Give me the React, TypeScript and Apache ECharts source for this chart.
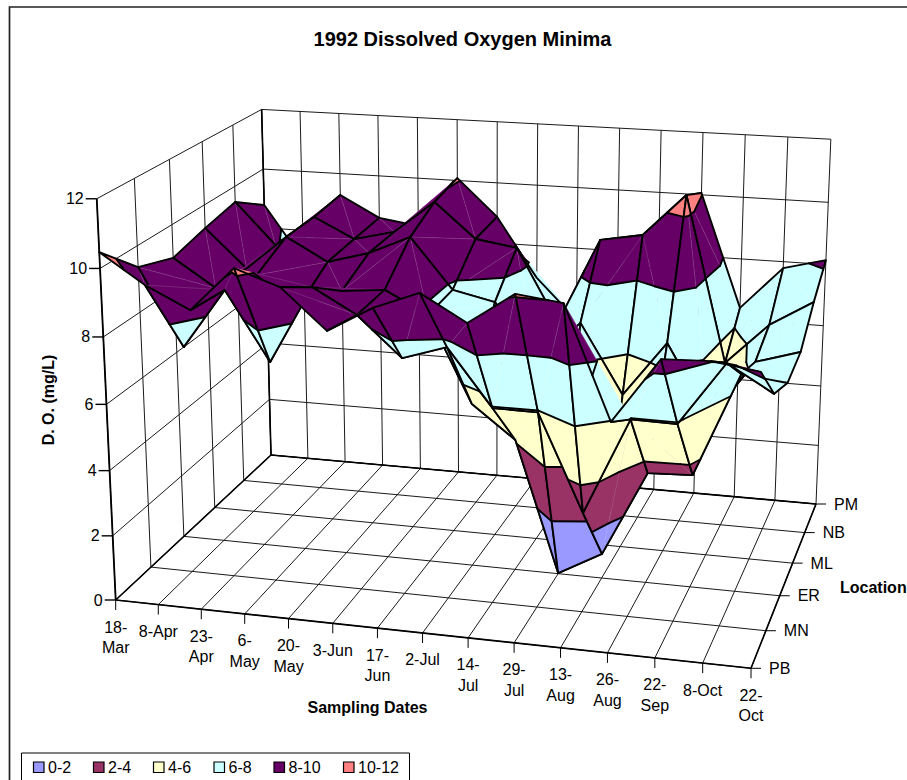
import React, { useEffect, useRef } from "react";
import * as echarts from "echarts";

const title = "1992 Dissolved Oxygen Minima";
const dates = ["18-\nMar", "8-Apr", "23-\nApr", "6-\nMay", "20-\nMay", "3-Jun", "17-\nJun", "2-Jul", "14-\nJul", "29-\nJul", "13-\nAug", "26-\nAug", "22-\nSep", "8-Oct", "22-\nOct"];
const locations = ["PB", "MN", "ER", "ML", "NB", "PM"];
const zTicks = [0, 2, 4, 6, 8, 10, 12];
const PB = [10.47, 9.61, 8.98, 10.28, 9.83, 8.68, 9.43, 9.95, 9.2, 10.11, 9.95, 6.73, 8.6, 8.65, 8.46];
const MN = [9.36, 7.04, 8.86, 6.79, 9.13, 8.4, 7.22, 7.65, 5.95, 5.93, 3.03, 5.95, 5.93, 7.81, 7.03];
const ER = [8.97, 8.12, 8.62, 7.78, 8.31, 8.44, 7.77, 5.12, 4.11, 0.02, 0.77, 3.44, 3.5, 6.69, 6.53];
const ML = [9.26, 8.05, 9.15, 8.44, 8.81, 9.4, 7.83, 7.54, 5.68, 7.08, 4.91, 6.65, 4.4, 6.27, 6.68];
const NB = [9.49, 8.15, 9.16, 8.52, 8.84, 9.89, 8.78, 8.58, 6.24, 9.01, 9.25, 10.59, 5.34, 6.67, 7.49];
const PM = [8.78, 6.98, 9.28, 8.59, 8.4, 10.08, 8.87, 6.92, 5.6, 7.1, 7.59, 10.06, 6.39, 7.79, 8.14];
const grid = [PB, MN, ER, ML, NB, PM];
const bandNames = ["0-2", "2-4", "4-6", "6-8", "8-10", "10-12"];
const bandColors = ["#9999FF", "#993366", "#FFFFCC", "#CCFFFF", "#660066", "#FF8080"];

const FONT = "'Liberation Sans', Arial, sans-serif";
const nx = dates.length - 1;
const ny = locations.length - 1;
const zMax = 12;

// Axis box calibration: the projected corners of the 3D box.
const floor = [[115.7, 600], [751, 668.3], [816, 504], [271, 455]];
const topFL = [97.3, 198.7];
const topBL = [261, 109.7];
const topBR = [831, 139];

function solve3(A: number[][], b: number[]) {
  const m = A.map((r, i) => [...r, b[i]]);
  for (let i = 0; i < 3; i++) {
    let p = i;
    for (let k = i + 1; k < 3; k++) if (Math.abs(m[k][i]) > Math.abs(m[p][i])) p = k;
    [m[i], m[p]] = [m[p], m[i]];
    for (let k = 0; k < 3; k++) {
      if (k === i) continue;
      const f = m[k][i] / m[i][i];
      for (let j = i; j < 4; j++) m[k][j] -= f * m[i][j];
    }
  }
  return [m[0][3] / m[0][0], m[1][3] / m[1][1], m[2][3] / m[2][2]];
}

const [[x0, y0], [x1, y1], [x2, y2], [x3, y3]] = floor;
const dx1 = x1 - x2, dx2 = x3 - x2, sx = x0 - x1 + x2 - x3;
const dy1 = y1 - y2, dy2 = y3 - y2, sy = y0 - y1 + y2 - y3;
const den = dx1 * dy2 - dx2 * dy1;
const g = (sx * dy2 - dx2 * sy) / den;
const h = (dx1 * sy - sx * dy1) / den;
const a = x1 - x0 + g * x1, b = x3 - x0 + h * x3, c = x0;
const d = y1 - y0 + g * y1, e = y3 - y0 + h * y3, f = y0;
const base = (X: number, Y: number) => [a * X + b * Y + c, d * X + e * Y + f, g * X + h * Y + 1];
const tops: [number, number, number[]][] = [[0, 0, topFL], [0, 1, topBL], [1, 1, topBR]];
const rows: number[][] = [];
const rhs: number[] = [];
tops.forEach(([X, Y, t]) => {
  const [bx, by, bw] = base(X, Y);
  rows.push([1, 0, -t[0]]); rhs.push(t[0] * bw - bx);
  rows.push([0, 1, -t[1]]); rhs.push(t[1] * bw - by);
});
const ATA = [0, 1, 2].map((i) => [0, 1, 2].map((j) => rows.reduce((s, r) => s + r[i] * r[j], 0)));
const ATb = [0, 1, 2].map((i) => rows.reduce((s, r, k) => s + r[i] * rhs[k], 0));
const [p1, p2, p3] = solve3(ATA, ATb);

function project(ix: number, iy: number, z: number): number[] {
  const X = echarts.number.linearMap(ix, [0, nx], [0, 1]);
  const Y = echarts.number.linearMap(iy, [0, ny], [0, 1]);
  const Z = echarts.number.linearMap(z, [0, zMax], [0, 1]);
  const [bx, by, bw] = base(X, Y);
  const w = bw + p3 * Z;
  return [(bx + p1 * Z) / w, (by + p2 * Z) / w];
}

type P3 = number[];
function clipAbove(poly: P3[], level: number, keepAbove: boolean): P3[] {
  const out: P3[] = [];
  for (let i = 0; i < poly.length; i++) {
    const p = poly[i], q = poly[(i + 1) % poly.length];
    const pin = keepAbove ? p[2] >= level : p[2] <= level;
    const qin = keepAbove ? q[2] >= level : q[2] <= level;
    if (pin) out.push(p);
    if (pin !== qin) {
      const t = (level - p[2]) / (q[2] - p[2]);
      out.push([p[0] + t * (q[0] - p[0]), p[1] + t * (q[1] - p[1]), level]);
    }
  }
  return out;
}

function contourSegment(tri: P3[], level: number): P3[] | null {
  const pts: P3[] = [];
  for (let i = 0; i < 3; i++) {
    const p = tri[i], q = tri[(i + 1) % 3];
    if ((p[2] < level && q[2] >= level) || (q[2] < level && p[2] >= level)) {
      const t = (level - p[2]) / (q[2] - p[2]);
      pts.push([p[0] + t * (q[0] - p[0]), p[1] + t * (q[1] - p[1]), level]);
    }
  }
  return pts.length === 2 ? pts : null;
}

const toScreen = (p: P3) => project(p[0], p[1], p[2]);
const MESH = { stroke: "#000", lineWidth: 1.9, lineJoin: "round", lineCap: "round", fill: "none" };

function renderCell(params: any, api: any) {
  const ix = api.value(0), iy = api.value(1);
  const A: P3 = [ix, iy, grid[iy][ix]];
  const B: P3 = [ix + 1, iy, grid[iy][ix + 1]];
  const C: P3 = [ix + 1, iy + 1, grid[iy + 1][ix + 1]];
  const D: P3 = [ix, iy + 1, grid[iy + 1][ix]];
  const acHigher = A[2] + C[2] >= B[2] + D[2];
  const tris = acHigher ? [[A, B, C], [A, C, D]] : [[A, B, D], [B, C, D]];
  const diag = acHigher ? [A, C] : [B, D];
  const children: any[] = [];
  tris.forEach((tri) => {
    bandColors.forEach((color, k) => {
      const lo = k * 2, hi = lo + 2;
      let poly = clipAbove(tri, lo, true);
      if (poly.length) poly = clipAbove(poly, hi, false);
      if (poly.length >= 3) {
        children.push({
          type: "polygon",
          shape: { points: poly.map(toScreen) },
          style: { fill: color, stroke: color, lineWidth: 0.4 },
        });
      }
    });
  });
  children.push({
    type: "polyline",
    shape: { points: diag.map(toScreen) },
    style: { stroke: "rgba(255,255,255,0.2)", lineWidth: 0.7, fill: "none" },
  });
  tris.forEach((tri) => {
    zTicks.forEach((lv) => {
      const seg = contourSegment(tri, lv);
      if (seg) children.push({ type: "polyline", shape: { points: seg.map(toScreen) }, style: MESH });
    });
  });
  children.push({ type: "polygon", shape: { points: [A, B, C, D].map(toScreen) }, style: MESH });
  return { type: "group", children };
}

const cells: number[][] = [];
for (let iy = ny - 1; iy >= 0; iy--) for (let ix = 0; ix < nx; ix++) cells.push([ix, iy]);

function line(p: number[], q: number[], lineWidth = 1, stroke = "#1a1a1a") {
  return { type: "line", silent: true, shape: { x1: p[0], y1: p[1], x2: q[0], y2: q[1] }, style: { stroke, lineWidth } };
}
function label(text: string, x: number, y: number, align = "center", extra: any = {}) {
  return {
    type: "text", silent: true, x, y,
    style: { text, x: 0, y: 0, align, verticalAlign: "middle", font: `16px ${FONT}`, lineHeight: 20.5, fill: "#000", ...extra },
  };
}
const BOLD = `bold 16px ${FONT}`;

function buildGraphics() {
  const els: any[] = [];
  els.push({ type: "rect", silent: true, shape: { x: 9.5, y: 7, width: 906, height: 790 }, style: { fill: "#fff", stroke: "#222", lineWidth: 1.7 } });
  zTicks.forEach((z) => {
    els.push(line(project(0, ny, z), project(nx, ny, z)));
    els.push(line(project(0, 0, z), project(0, ny, z)));
  });
  dates.forEach((_, i) => {
    els.push(line(project(i, ny, 0), project(i, ny, zMax)));
    els.push(line(project(i, 0, 0), project(i, ny, 0)));
  });
  locations.forEach((_, j) => {
    els.push(line(project(0, j, 0), project(0, j, zMax)));
    els.push(line(project(0, j, 0), project(nx, j, 0)));
  });
  els.push(line(project(0, 0, 0), project(0, 0, zMax), 1.8, "#000"));
  els.push(line(project(0, 0, 0), project(nx, 0, 0), 1.6, "#000"));
  els.push(line(project(nx, 0, 0), project(nx, ny, 0), 1.6, "#000"));
  els.push(line(project(0, 0, 0), project(0, ny, 0), 1.6, "#000"));
  els.push(line(project(0, ny, 0), project(nx, ny, 0), 1.6, "#000"));
  els.push(line(project(0, ny, 0), project(0, ny, zMax), 1.6, "#000"));
  zTicks.forEach((z) => {
    const p = project(0, 0, z);
    els.push(line([p[0] - 11, p[1]], p, 1.4, "#000"));
    els.push(label(String(z), p[0] - 13, p[1], "right"));
  });
  dates.forEach((name, i) => {
    const p = project(i, 0, 0);
    els.push(line(p, [p[0], p[1] + 10], 1, "#000"));
    const lines = name.split("\n").length;
    els.push(label(name, p[0], p[1] + 27 + (lines - 1) * 10.25));
  });
  locations.forEach((name, j) => {
    const p = project(nx, j, 0);
    els.push(line(p, [p[0] + 10, p[1]], 1, "#000"));
    els.push(label(name, p[0] + 18, p[1], "left"));
  });
  els.push(label("Sampling Dates", 367.5, 707.5, "center", { font: BOLD }));
  els.push(label("Location", 840, 587, "left", { font: BOLD }));
  els.push({
    type: "text", silent: true, x: 48, y: 400, rotation: Math.PI / 2,
    style: { text: "D. O. (mg/L)", x: 0, y: 0, align: "center", verticalAlign: "middle", font: BOLD, fill: "#000" },
  });
  els.push({ type: "rect", silent: true, shape: { x: 21.5, y: 753, width: 388, height: 40 }, style: { fill: "#fff", stroke: "#000", lineWidth: 1 } });
  const swatchX = [33.5, 93.5, 153.5, 214, 274, 343.5];
  bandNames.forEach((name, i) => {
    els.push({ type: "rect", silent: true, shape: { x: swatchX[i], y: 762, width: 10.5, height: 10.5 }, style: { fill: bandColors[i], stroke: "#000", lineWidth: 1.2 } });
    els.push(label(name, swatchX[i] + 14.5, 767.5, "left"));
  });
  return els;
}

export default function App() {
  const ref = useRef<HTMLDivElement>(null);
  useEffect(() => {
    const chart = echarts.init(ref.current!, null, { renderer: "svg" });
    chart.setOption({
      animation: false,
      backgroundColor: "#fff",
      title: {
        text: title, left: 457.5, top: 24, textAlign: "center",
        textStyle: { fontFamily: FONT, fontSize: 20, fontWeight: "bold", color: "#000" },
      },
      graphic: { elements: buildGraphics() },
      series: [{
        type: "custom",
        coordinateSystem: "none",
        renderItem: renderCell,
        data: cells,
        silent: true,
        clip: false,
        z: 5,
      }],
    });
    return () => chart.dispose();
  }, []);
  return <div ref={ref} style={{ position: "absolute", left: 0, top: 0, width: 907, height: 780 }} />;
}
